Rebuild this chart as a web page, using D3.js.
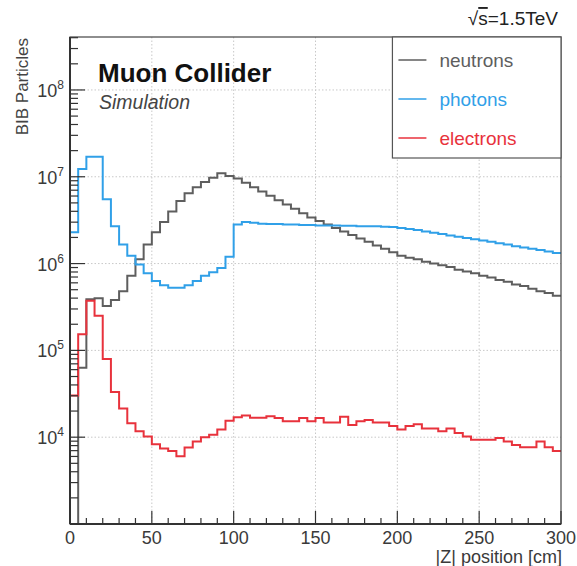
<!DOCTYPE html>
<html>
<head>
<meta charset="utf-8">
<script src="https://cdn.jsdelivr.net/npm/d3@7"></script>
<style>
  body { margin: 0; background: #fff; }
  svg { font-family: "Liberation Sans", Arial, Helvetica, sans-serif; }
  .grid line { stroke: #c8c8c8; stroke-dasharray: 1.5,2; stroke-width: 1; }
  .tick-label { fill: #3a3a3a; font-size: 18px; }
</style>
</head>
<body>
<svg width="577" height="566"></svg>
<script>
// 60 bins of 5 cm, 0 -> 300 cm
const binEdges = d3.range(0, 305, 5);

const neutrons = [0, 6.3e4, 3.89e5, 3.98e5, 3.24e5, 3.80e5, 4.79e5, 7.24e5, 1.12e6, 1.66e6,
  2.29e6, 3.02e6, 3.98e6, 5.25e6, 6.46e6, 7.59e6, 8.71e6, 9.77e6, 1.10e7, 1.02e7,
  9.55e6, 8.51e6, 7.59e6, 6.76e6, 6.03e6, 5.37e6, 4.79e6, 4.27e6, 3.80e6, 3.39e6,
  3.09e6, 2.82e6, 2.57e6, 2.34e6, 2.14e6, 1.95e6, 1.78e6, 1.62e6, 1.48e6, 1.35e6,
  1.23e6, 1.17e6, 1.12e6, 1.05e6, 1.00e6, 9.55e5, 9.12e5, 8.51e5, 8.13e5, 7.76e5,
  7.24e5, 6.92e5, 6.46e5, 6.17e5, 5.75e5, 5.50e5, 5.13e5, 4.79e5, 4.57e5, 4.27e5];

const photons = [2.29e6, 1.23e7, 1.70e7, 1.70e7, 5.50e6, 2.69e6, 1.66e6, 1.23e6, 9.77e5, 7.76e5,
  6.31e5, 5.62e5, 5.25e5, 5.25e5, 5.62e5, 6.31e5, 7.24e5, 7.94e5, 8.91e5, 1.20e6,
  2.82e6, 3.02e6, 2.95e6, 2.88e6, 2.85e6, 2.85e6, 2.82e6, 2.82e6, 2.79e6, 2.79e6,
  2.75e6, 2.75e6, 2.75e6, 2.72e6, 2.72e6, 2.69e6, 2.69e6, 2.69e6, 2.66e6, 2.63e6,
  2.57e6, 2.51e6, 2.43e6, 2.34e6, 2.26e6, 2.19e6, 2.11e6, 2.04e6, 1.97e6, 1.91e6,
  1.84e6, 1.78e6, 1.72e6, 1.66e6, 1.58e6, 1.53e6, 1.48e6, 1.43e6, 1.38e6, 1.32e6];

const electrons = [3.02e4, 1.53e5, 3.72e5, 2.51e5, 7.94e4, 3.31e4, 2.14e4, 1.45e4, 1.17e4, 1.02e4,
  8.32e3, 7.41e3, 6.92e3, 6.03e3, 7.59e3, 8.91e3, 1.00e4, 1.07e4, 1.23e4, 1.55e4,
  1.70e4, 1.78e4, 1.68e4, 1.68e4, 1.74e4, 1.66e4, 1.53e4, 1.53e4, 1.66e4, 1.53e4,
  1.66e4, 1.48e4, 1.48e4, 1.72e4, 1.38e4, 1.53e4, 1.58e4, 1.48e4, 1.48e4, 1.35e4,
  1.23e4, 1.35e4, 1.41e4, 1.26e4, 1.26e4, 1.17e4, 1.26e4, 1.12e4, 1.02e4, 9.33e3,
  9.33e3, 9.33e3, 9.77e3, 8.91e3, 8.13e3, 7.67e3, 7.67e3, 8.91e3, 7.67e3, 6.92e3];

const seriesNames = ["neutrons", "photons", "electrons"];
const seriesColors = ["#5e5e5e", "#30a0e8", "#e8323c"];
const seriesData = [neutrons, photons, electrons];

const xTicks = [0, 50, 100, 150, 200, 250, 300];
const yDecades = [4, 5, 6, 7, 8];

const margin = {top: 37, right: 16, bottom: 42, left: 70},
    width = 577 - margin.left - margin.right,
    height = 566 - margin.top - margin.bottom;

const svg = d3.select("svg");
const g = svg.append("g")
    .attr("transform", `translate(${margin.left},${margin.top})`);

const x = d3.scaleLinear().domain([0, 300]).range([0, width]);
const yMin = 1e3, yMax = Math.pow(10, 8.61);
const y = d3.scaleLog().domain([yMin, yMax]).range([height, 0]);

// grid
const grid = g.append("g").attr("class", "grid");
grid.selectAll(".gx").data(xTicks.slice(1, -1)).enter().append("line")
    .attr("x1", d => x(d)).attr("x2", d => x(d))
    .attr("y1", 0).attr("y2", height);
grid.selectAll(".gy").data(yDecades).enter().append("line")
    .attr("x1", 0).attr("x2", width)
    .attr("y1", d => y(Math.pow(10, d))).attr("y2", d => y(Math.pow(10, d)));

// histograms
g.append("clipPath").attr("id", "clip")
  .append("rect").attr("width", width).attr("height", height);

const line = d3.line()
    .x(d => x(d[0]))
    .y(d => y(Math.max(d[1], yMin)))
    .curve(d3.curveStepAfter);

seriesData.forEach((vals, i) => {
  const pts = vals.map((v, j) => [binEdges[j], v]);
  pts.push([300, vals[vals.length - 1]]);
  g.append("path")
      .datum(pts)
      .attr("clip-path", "url(#clip)")
      .attr("fill", "none")
      .attr("stroke", seriesColors[i])
      .attr("stroke-width", 2)
      .attr("d", line);
});

// frame
g.append("rect")
    .attr("width", width).attr("height", height)
    .attr("fill", "none").attr("stroke", "#444").attr("stroke-width", 1.2);

// x axis ticks (inward)
const xAxis = g.append("g");
xAxis.selectAll("line").data(d3.range(0, 301, 10)).enter().append("line")
    .attr("x1", d => x(d)).attr("x2", d => x(d))
    .attr("y1", height).attr("y2", d => height - (d % 50 === 0 ? 13 : 6))
    .attr("stroke", "#333").attr("stroke-width", 1.2);
xAxis.append("line").attr("x1", 0).attr("x2", width)
    .attr("y1", height).attr("y2", height)
    .attr("stroke", "#333").attr("stroke-width", 2);
xAxis.selectAll("text").data(xTicks).enter().append("text")
    .attr("class", "tick-label")
    .attr("x", d => x(d)).attr("y", height + 20)
    .attr("text-anchor", "middle")
    .text(d => d);

// y axis ticks (inward, log)
const yAxis = g.append("g");
const yMinor = [];
for (let e = 3; e <= 8; e++) {
  for (let m = 1; m <= 9; m++) {
    const v = m * Math.pow(10, e);
    if (v >= yMin && v <= yMax) yMinor.push(v);
  }
}
yAxis.selectAll("line").data(yMinor).enter().append("line")
    .attr("x1", 0).attr("x2", d => (Math.abs(Math.log10(d) % 1) < 1e-9 ? 15 : 8))
    .attr("y1", d => y(d)).attr("y2", d => y(d))
    .attr("stroke", "#333").attr("stroke-width", 1.2);
yAxis.append("line").attr("x1", 0).attr("x2", 0)
    .attr("y1", 0).attr("y2", height)
    .attr("stroke", "#333").attr("stroke-width", 2);
const yLab = yAxis.selectAll("text").data(yDecades).enter().append("text")
    .attr("class", "tick-label")
    .attr("x", -6).attr("y", d => y(Math.pow(10, d)) + 7)
    .attr("text-anchor", "end");
yLab.append("tspan").text("10");
yLab.append("tspan").attr("font-size", "12px").attr("dy", -8).text(d => d);

// axis titles
svg.append("text")
    .attr("transform", "translate(28,38) rotate(-90)")
    .attr("text-anchor", "end")
    .attr("fill", "#444").attr("font-size", "17px")
    .text("BIB Particles");
svg.append("text")
    .attr("x", margin.left + width + 1).attr("y", 563)
    .attr("text-anchor", "end")
    .attr("fill", "#3a3a3a").attr("font-size", "18px")
    .text("|Z| position [cm]");

// labels
g.append("text").attr("x", 28).attr("y", 45)
    .attr("font-size", "26px").attr("font-weight", "bold").attr("fill", "#111")
    .text("Muon Collider");
g.append("text").attr("x", 29).attr("y", 72)
    .attr("font-size", "19.5px").attr("font-style", "italic").attr("fill", "#444")
    .text("Simulation");
const sq = svg.append("text").attr("x", 558).attr("y", 25)
    .attr("text-anchor", "end").attr("font-size", "19px").attr("fill", "#222");
sq.append("tspan").text("\u221A");
sq.append("tspan").style("text-decoration", "overline").text("s");
sq.append("tspan").text("=1.5TeV");

// legend
const lg = g.append("g").attr("transform", `translate(${x(197)},0)`);
const lgW = width - x(197);
lg.append("rect").attr("width", lgW).attr("height", 121)
    .attr("fill", "#fff").attr("stroke", "#555").attr("stroke-width", 1.2);
seriesNames.forEach((name, i) => {
  const cy = 23 + i * 39;
  lg.append("line").attr("x1", 6).attr("x2", 34).attr("y1", cy).attr("y2", cy)
      .attr("stroke", seriesColors[i]).attr("stroke-width", 1.5);
  lg.append("text").attr("x", 47).attr("y", cy + 7)
      .attr("font-size", "19px").attr("fill", seriesColors[i])
      .text(name);
});
</script>
</body>
</html>
